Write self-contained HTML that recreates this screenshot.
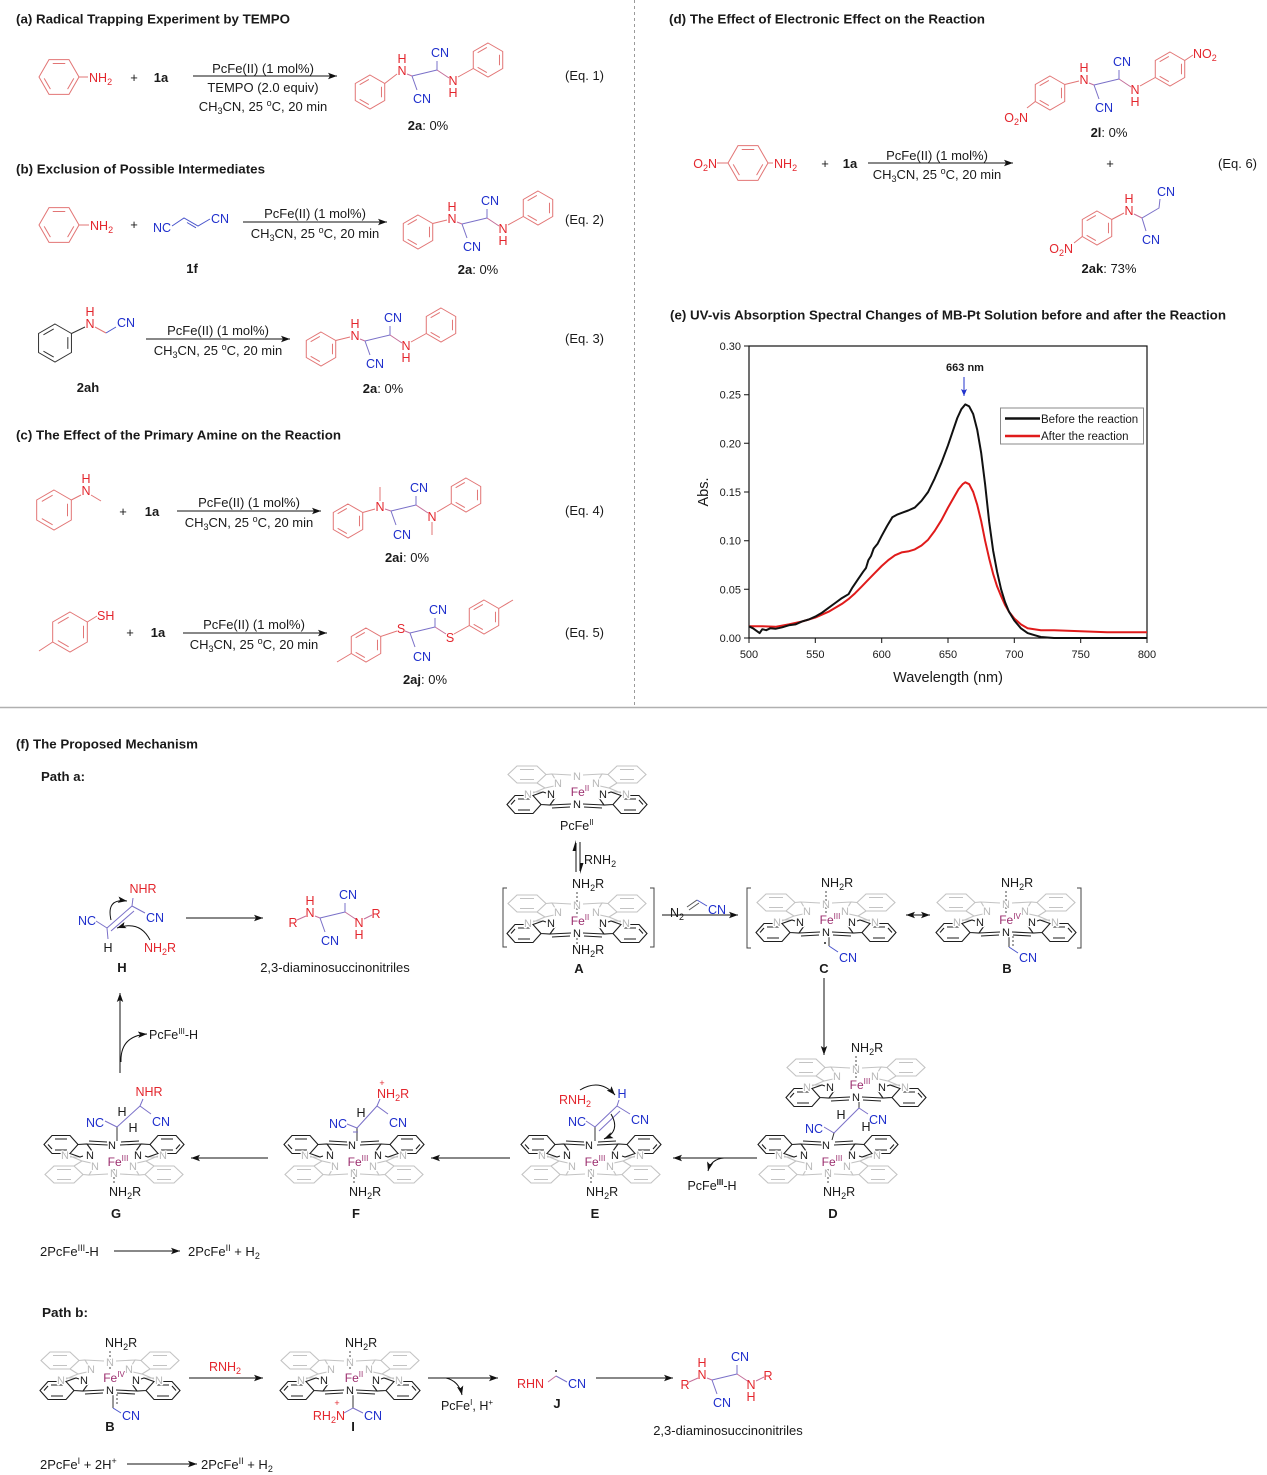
<!DOCTYPE html>
<html><head><meta charset="utf-8">
<style>
html,body{margin:0;padding:0;background:#fff}
svg{display:block}
text{font-family:"Liberation Sans",Arial,sans-serif;fill:#1a1a1a}
.t{font-size:13px}
.ti{font-size:12.5px;font-weight:bold}
.bd{font-weight:bold}
.l{font-size:12.5px}
.r{fill:#e3262d}
.u{fill:#1f2fcc}
.m{text-anchor:middle}
.e{text-anchor:end}
.pn{font-size:11px;text-anchor:middle;paint-order:stroke;stroke:#fff;stroke-width:2.5px;stroke-linejoin:round}
.g{fill:#b8b8b8}
.fe{fill:#9b2d6e;font-size:12px}
.s{fill:none;stroke-width:1}
.ax{font-size:11px}
</style></head><body>
<svg width="1267" height="1475" viewBox="0 0 1267 1475" xmlns="http://www.w3.org/2000/svg">
<defs>
<marker id="ah" markerUnits="userSpaceOnUse" markerWidth="10" markerHeight="8" refX="9" refY="4" orient="auto"><path d="M0,0.8 L9,4 L0,7.2 L2,4 Z" fill="#111"/></marker>
<marker id="ahb" markerUnits="userSpaceOnUse" markerWidth="8" markerHeight="8" refX="7" refY="4" orient="auto"><path d="M0,1 L7,4 L0,7 L1.5,4 Z" fill="#2233cc"/></marker>
<g id="hx"><path vector-effect="non-scaling-stroke" fill="none" d="M-1,0 L-0.5,-0.866 L0.5,-0.866 L1,0 L0.5,0.866 L-0.5,0.866 Z M-0.312,-0.675 L0.312,-0.675 M0.741,0.068 L0.429,0.608 M-0.429,0.608 L-0.741,0.068"/></g>
<g id="pcBl"><path d="M-70,10.5 L-62,1.5 L-44,1.5 L-36,10.5 L-44,19.5 L-62,19.5 Z M-59,5 L-47,5 M-59,16 L-47,16 M-66,10.5 L-62,6 M-44,1.5 L-34,-2 L-31,-1 M-22,4 L-27,11 L-36,10.5 M-27,11 L-6,10 M-25,14 L-7,13"/></g>
<g id="pcGl"><path d="M-69,-19.5 L-60,-28 L-40,-28 L-31,-19.5 L-40,-11 L-60,-11 Z M-57,-24.5 L-43,-24.5 M-57,-14.5 L-43,-14.5 M-31,-19.5 L-25,-20 L-22,-15 M-23,-8 L-32,-6 L-40,-11 M-32,-6 L-44,-1 M-34,-2 L-44,-2 M-25,-20 L-6,-19"/></g>
<g id="pc" fill="none" stroke-width="1.1">
<g stroke="#c3c3c3"><use href="#pcGl"/><use href="#pcGl" transform="scale(-1,1)"/></g>
<g stroke="#1e1e1e"><use href="#pcBl"/><use href="#pcBl" transform="scale(-1,1)"/></g>
</g>
</defs>

<!-- separators -->
<line x1="634.5" y1="0" x2="634.5" y2="705" stroke="#9a9a9a" stroke-width="1" stroke-dasharray="3,3"/>
<line x1="0" y1="707.5" x2="1267" y2="707.5" stroke="#b0b0b0" stroke-width="1.5"/>

<!-- ========== (a) ========== -->
<text class="ti" x="16" y="23.5" textLength="274" lengthAdjust="spacingAndGlyphs">(a) Radical Trapping Experiment by TEMPO</text>
<use href="#hx" transform="translate(59,77) scale(20)" stroke="#e27575" stroke-width="1"/>
<path class="s" stroke="#e27575" d="M79,77 L88,77"/>
<text class="l r" x="89" y="82">NH<tspan font-size="9" dy="3">2</tspan></text>
<text class="t m" x="134" y="82">+</text>
<text class="t bd m" x="161" y="82">1a</text>
<line x1="193" y1="76" x2="337" y2="76" stroke="#111" stroke-width="1" marker-end="url(#ah)"/>
<text class="t m" x="263" y="73">PcFe(II) (1 mol%)</text>
<text class="t m" x="263" y="92">TEMPO (2.0 equiv)</text>
<text class="t m" x="263" y="111">CH<tspan font-size="9" dy="3">3</tspan><tspan dy="-3">CN, 25 </tspan><tspan font-size="9" dy="-5">o</tspan><tspan dy="5">C, 20 min</tspan></text>
<g transform="translate(412,76)">
<use href="#hx" transform="translate(-42,16) rotate(90) scale(17)" stroke="#e27575" stroke-width="1"/>
<use href="#hx" transform="translate(76,-16) rotate(90) scale(17)" stroke="#e27575" stroke-width="1"/>
<path class="s" stroke="#e27575" d="M-27.3,7.5 L-15,-2 M61.3,-7.5 L46,1"/>
<path class="s" stroke="#c46f9a" d="M-5,-2 L0,0 M37,2 L25,-6"/>
<path class="s" stroke="#7a70c8" d="M0,0 L25,-6 M0,0 L5,14 M25,-6 L25,-15"/>
<text class="l r m" x="-10" y="-1">N</text><text class="l r m" x="-10" y="-13">H</text>
<text class="l r m" x="41" y="9">N</text><text class="l r m" x="41" y="21">H</text>
<text class="l u m" x="28" y="-19">CN</text><text class="l u m" x="10" y="27">CN</text>
</g>
<text class="t m" x="428" y="130"><tspan class="bd">2a</tspan>: 0%</text>
<text class="t" x="565" y="80">(Eq. 1)</text>

<!-- ========== (b) ========== -->
<text class="ti" x="16" y="173.5" textLength="249" lengthAdjust="spacingAndGlyphs">(b) Exclusion of Possible Intermediates</text>
<use href="#hx" transform="translate(59,225) scale(20)" stroke="#e27575" stroke-width="1"/>
<path class="s" stroke="#e27575" d="M79,225 L89,225"/>
<text class="l r" x="90" y="230">NH<tspan font-size="9" dy="3">2</tspan></text>
<text class="t m" x="134" y="229">+</text>
<text class="l u m" x="162" y="232">NC</text>
<path class="s" stroke="#4a55cc" d="M172,226 L184,218 L198,226 L210,219 M187,222.5 L196,227.8"/>
<text class="l u" x="211" y="223">CN</text>
<text class="t bd m" x="192" y="273">1f</text>
<line x1="243" y1="222" x2="387" y2="222" stroke="#111" stroke-width="1" marker-end="url(#ah)"/>
<text class="t m" x="315" y="218">PcFe(II) (1 mol%)</text>
<text class="t m" x="315" y="238">CH<tspan font-size="9" dy="3">3</tspan><tspan dy="-3">CN, 25 </tspan><tspan font-size="9" dy="-5">o</tspan><tspan dy="5">C, 20 min</tspan></text>
<g transform="translate(462,224)">
<use href="#hx" transform="translate(-44,8) rotate(90) scale(17)" stroke="#e27575" stroke-width="1"/>
<use href="#hx" transform="translate(76,-16) rotate(90) scale(17)" stroke="#e27575" stroke-width="1"/>
<path class="s" stroke="#e27575" d="M-29.3,-0.5 L-15,-4 M61.3,-7.5 L46,1"/>
<path class="s" stroke="#c46f9a" d="M-5,-2 L0,0 M37,2 L25,-6"/>
<path class="s" stroke="#7a70c8" d="M0,0 L25,-6 M0,0 L5,14 M25,-6 L25,-15"/>
<text class="l r m" x="-10" y="-1">N</text><text class="l r m" x="-10" y="-13">H</text>
<text class="l r m" x="41" y="9">N</text><text class="l r m" x="41" y="21">H</text>
<text class="l u m" x="28" y="-19">CN</text><text class="l u m" x="10" y="27">CN</text>
</g>
<text class="t m" x="478" y="274"><tspan class="bd">2a</tspan>: 0%</text>
<text class="t" x="565" y="224">(Eq. 2)</text>

<!-- Eq 3 -->
<use href="#hx" transform="translate(55,343) rotate(90) scale(19)" stroke="#333" stroke-width="1"/>
<path class="s" stroke="#333" d="M71.5,333.5 L85,327"/>
<text class="l r m" x="90" y="328">N</text><text class="l r m" x="90" y="316">H</text>
<path class="s" stroke="#e27575" d="M95,327 L106,333"/>
<path class="s" stroke="#4a55cc" d="M106,333 L116,327"/>
<text class="l u" x="117" y="327">CN</text>
<text class="t bd m" x="88" y="392">2ah</text>
<line x1="146" y1="339" x2="290" y2="339" stroke="#111" stroke-width="1" marker-end="url(#ah)"/>
<text class="t m" x="218" y="335">PcFe(II) (1 mol%)</text>
<text class="t m" x="218" y="355">CH<tspan font-size="9" dy="3">3</tspan><tspan dy="-3">CN, 25 </tspan><tspan font-size="9" dy="-5">o</tspan><tspan dy="5">C, 20 min</tspan></text>
<g transform="translate(365,341)">
<use href="#hx" transform="translate(-44,8) rotate(90) scale(17)" stroke="#e27575" stroke-width="1"/>
<use href="#hx" transform="translate(76,-16) rotate(90) scale(17)" stroke="#e27575" stroke-width="1"/>
<path class="s" stroke="#e27575" d="M-29.3,-0.5 L-15,-4 M61.3,-7.5 L46,1"/>
<path class="s" stroke="#c46f9a" d="M-5,-2 L0,0 M37,2 L25,-6"/>
<path class="s" stroke="#7a70c8" d="M0,0 L25,-6 M0,0 L5,14 M25,-6 L25,-15"/>
<text class="l r m" x="-10" y="-1">N</text><text class="l r m" x="-10" y="-13">H</text>
<text class="l r m" x="41" y="9">N</text><text class="l r m" x="41" y="21">H</text>
<text class="l u m" x="28" y="-19">CN</text><text class="l u m" x="10" y="27">CN</text>
</g>
<text class="t m" x="383" y="393"><tspan class="bd">2a</tspan>: 0%</text>
<text class="t" x="565" y="343">(Eq. 3)</text>

<!-- ========== (c) ========== -->
<text class="ti" x="16" y="439.5" textLength="325" lengthAdjust="spacingAndGlyphs">(c) The Effect of the Primary Amine on the Reaction</text>
<use href="#hx" transform="translate(54,510) rotate(90) scale(20)" stroke="#e27575" stroke-width="1"/>
<path class="s" stroke="#e27575" d="M71.3,500 L81,495 M91,495 L101,501"/>
<text class="l r m" x="86" y="495">N</text><text class="l r m" x="86" y="483">H</text>
<text class="t m" x="123" y="516">+</text>
<text class="t bd m" x="152" y="516">1a</text>
<line x1="177" y1="511" x2="321" y2="511" stroke="#111" stroke-width="1" marker-end="url(#ah)"/>
<text class="t m" x="249" y="507">PcFe(II) (1 mol%)</text>
<text class="t m" x="249" y="527">CH<tspan font-size="9" dy="3">3</tspan><tspan dy="-3">CN, 25 </tspan><tspan font-size="9" dy="-5">o</tspan><tspan dy="5">C, 20 min</tspan></text>
<g transform="translate(391,511)">
<use href="#hx" transform="translate(-43,10) rotate(90) scale(17)" stroke="#e27575" stroke-width="1"/>
<use href="#hx" transform="translate(75,-16) rotate(90) scale(17)" stroke="#e27575" stroke-width="1"/>
<path class="s" stroke="#e27575" d="M-28.3,1.5 L-16,-2 M60.3,-7.5 L46,1 M-11,-10 L-11,-24 M41,11 L41,24"/>
<path class="s" stroke="#c46f9a" d="M-6,-2 L0,0 M37,2 L25,-6"/>
<path class="s" stroke="#7a70c8" d="M0,0 L25,-6 M0,0 L5,14 M25,-6 L25,-15"/>
<text class="l r m" x="-11" y="0">N</text>
<text class="l r m" x="41" y="10">N</text>
<text class="l u m" x="28" y="-19">CN</text><text class="l u m" x="11" y="28">CN</text>
</g>
<text class="t m" x="407" y="562"><tspan class="bd">2ai</tspan>: 0%</text>
<text class="t" x="565" y="515">(Eq. 4)</text>

<!-- Eq 5 -->
<use href="#hx" transform="translate(70,632) rotate(90) scale(20)" stroke="#e27575" stroke-width="1"/>
<path class="s" stroke="#e27575" d="M87.3,622 L97,616 M52.7,642 L39,651"/>
<text class="l r" x="97" y="620">SH</text>
<text class="t m" x="130" y="637">+</text>
<text class="t bd m" x="158" y="637">1a</text>
<line x1="183" y1="633" x2="327" y2="633" stroke="#111" stroke-width="1" marker-end="url(#ah)"/>
<text class="t m" x="254" y="629">PcFe(II) (1 mol%)</text>
<text class="t m" x="254" y="649">CH<tspan font-size="9" dy="3">3</tspan><tspan dy="-3">CN, 25 </tspan><tspan font-size="9" dy="-5">o</tspan><tspan dy="5">C, 20 min</tspan></text>
<g transform="translate(410,633)">
<use href="#hx" transform="translate(-44,12) rotate(90) scale(17)" stroke="#e27575" stroke-width="1"/>
<use href="#hx" transform="translate(74,-16) rotate(90) scale(17)" stroke="#e27575" stroke-width="1"/>
<path class="s" stroke="#e27575" d="M-29.3,3.5 L-13,-2 M-58.7,20.5 L-73,29 M59.3,-7.5 L44,1 M88.7,-24.5 L103,-33"/>
<path class="s" stroke="#c46f9a" d="M-5,-2 L0,0 M36,1 L25,-6"/>
<path class="s" stroke="#7a70c8" d="M0,0 L25,-6 M0,0 L5,14 M25,-6 L25,-15"/>
<text class="l r m" x="-9" y="0">S</text>
<text class="l r m" x="40" y="9">S</text>
<text class="l u m" x="28" y="-19">CN</text><text class="l u m" x="12" y="28">CN</text>
</g>
<text class="t m" x="425" y="684"><tspan class="bd">2aj</tspan>: 0%</text>
<text class="t" x="565" y="637">(Eq. 5)</text>

<!-- ========== (d) ========== -->
<text class="ti" x="669" y="23.5" textLength="316" lengthAdjust="spacingAndGlyphs">(d) The Effect of Electronic Effect on the Reaction</text>
<text class="l r e" x="717" y="168">O<tspan font-size="9" dy="3">2</tspan><tspan dy="-3">N</tspan></text>
<path class="s" stroke="#e27575" d="M717,163 L728,163 M768,163 L773,163"/>
<use href="#hx" transform="translate(748,163) scale(20)" stroke="#e27575" stroke-width="1"/>
<text class="l r" x="774" y="168">NH<tspan font-size="9" dy="3">2</tspan></text>
<text class="t m" x="825" y="168">+</text>
<text class="t bd m" x="850" y="168">1a</text>
<line x1="868" y1="163" x2="1013" y2="163" stroke="#111" stroke-width="1" marker-end="url(#ah)"/>
<text class="t m" x="937" y="160">PcFe(II) (1 mol%)</text>
<text class="t m" x="937" y="179">CH<tspan font-size="9" dy="3">3</tspan><tspan dy="-3">CN, 25 </tspan><tspan font-size="9" dy="-5">o</tspan><tspan dy="5">C, 20 min</tspan></text>
<g transform="translate(1094,85)">
<use href="#hx" transform="translate(-44,8) rotate(90) scale(17)" stroke="#e27575" stroke-width="1"/>
<use href="#hx" transform="translate(76,-16) rotate(90) scale(17)" stroke="#e27575" stroke-width="1"/>
<path class="s" stroke="#e27575" d="M-29.3,-0.5 L-15,-4 M61.3,-7.5 L46,1 M-58.7,16.5 L-67,23 M90.7,-24.5 L99,-30"/>
<path class="s" stroke="#c46f9a" d="M-5,-2 L0,0 M37,2 L25,-6"/>
<path class="s" stroke="#7a70c8" d="M0,0 L25,-6 M0,0 L5,14 M25,-6 L25,-15"/>
<text class="l r m" x="-10" y="-1">N</text><text class="l r m" x="-10" y="-13">H</text>
<text class="l r m" x="41" y="9">N</text><text class="l r m" x="41" y="21">H</text>
<text class="l u m" x="28" y="-19">CN</text><text class="l u m" x="10" y="27">CN</text>
<text class="l r e" x="-66" y="37">O<tspan font-size="9" dy="3">2</tspan><tspan dy="-3">N</tspan></text>
<text class="l r" x="99" y="-27">NO<tspan font-size="9" dy="3">2</tspan></text>
</g>
<text class="t m" x="1109" y="137"><tspan class="bd">2l</tspan>: 0%</text>
<text class="t m" x="1110" y="168">+</text>
<text class="t" x="1218" y="168">(Eq. 6)</text>
<!-- 2ak -->
<use href="#hx" transform="translate(1097,228) rotate(90) scale(17)" stroke="#e27575" stroke-width="1"/>
<path class="s" stroke="#e27575" d="M1111.7,219.5 L1124,213 M1082.3,236.5 L1074,243"/>
<text class="l r m" x="1129" y="215">N</text><text class="l r m" x="1129" y="203">H</text>
<path class="s" stroke="#c46f9a" d="M1134,214 L1142,218"/>
<path class="s" stroke="#7a70c8" d="M1142,218 L1159,208 L1160,199 M1142,218 L1146,231"/>
<text class="l u m" x="1166" y="196">CN</text>
<text class="l u m" x="1151" y="244">CN</text>
<text class="l r e" x="1073" y="253">O<tspan font-size="9" dy="3">2</tspan><tspan dy="-3">N</tspan></text>
<text class="t m" x="1109" y="273"><tspan class="bd">2ak</tspan>: 73%</text>

<!-- ========== (e) chart ========== -->
<text class="ti" x="670" y="319.5" textLength="556" lengthAdjust="spacingAndGlyphs">(e) UV-vis Absorption Spectral Changes of MB-Pt Solution before and after the Reaction</text>
<rect x="749" y="346" width="398" height="292" fill="none" stroke="#111" stroke-width="1.2"/>
<g stroke="#111" stroke-width="1">
<path d="M744,638 H749 M744,589.3 H749 M744,540.7 H749 M744,492 H749 M744,443.3 H749 M744,394.7 H749 M744,346 H749"/>
<path d="M749,638 V643 M815.3,638 V643 M881.7,638 V643 M948,638 V643 M1014.3,638 V643 M1080.7,638 V643 M1147,638 V643"/>
</g>
<g class="ax">
<text class="ax e" x="741" y="642">0.00</text>
<text class="ax e" x="741" y="593.3">0.05</text>
<text class="ax e" x="741" y="544.7">0.10</text>
<text class="ax e" x="741" y="496">0.15</text>
<text class="ax e" x="741" y="447.3">0.20</text>
<text class="ax e" x="741" y="398.7">0.25</text>
<text class="ax e" x="741" y="350">0.30</text>
<text class="ax m" x="749" y="658">500</text>
<text class="ax m" x="815.3" y="658">550</text>
<text class="ax m" x="881.7" y="658">600</text>
<text class="ax m" x="948" y="658">650</text>
<text class="ax m" x="1014.3" y="658">700</text>
<text class="ax m" x="1080.7" y="658">750</text>
<text class="ax m" x="1147" y="658">800</text>
</g>
<text class="m" x="948" y="682" font-size="14.5">Wavelength (nm)</text>
<text class="m" font-size="14.5" transform="translate(708,492) rotate(-90)">Abs.</text>
<polyline fill="none" stroke="#e01b1b" stroke-width="2" stroke-linejoin="round" points="749,626.3 762.3,626.3 775.5,626.8 788.8,624.4 802.1,621.5 815.3,617.6 828.6,611.7 841.9,603.9 848.5,599.1 855.1,593.2 861.8,586.4 868.4,579.6 875,572.8 881.7,566 888.3,560.1 894.9,555.3 901.6,552.4 908.2,551.4 914.8,549.4 921.5,545.5 928.1,539.7 934.7,530.9 941.4,520.2 948,507.6 954.7,495.9 958.6,489.1 962.6,484.2 965.3,482.3 969.2,484.2 973.2,492 977.2,504.7 981.2,521.2 985.1,540.7 989.1,558.2 993.1,573.8 997.1,586.4 1001.1,596.1 1005,604.9 1009,611.7 1014.3,618.5 1020.9,624.4 1027.6,628.3 1034.2,629.2 1040.9,630.2 1054.1,630.2 1080.7,631.2 1107.2,632.2 1147,632.2"/>
<polyline fill="none" stroke="#111" stroke-width="2" stroke-linejoin="round" points="749,626.3 753,628.3 757,631.2 759.6,633.1 762.3,629.2 766.2,630.2 770.2,628.3 775.5,628.8 782.2,627.3 788.8,625.3 795.4,624.4 802.1,621.4 808.7,619.5 815.3,616.6 822,612.7 828.6,607.8 835.2,603 841.9,598.1 848.5,594.2 852.5,587.4 857.8,579.6 863.1,571.8 866,568 868.4,560.1 871,556 873.7,548.5 877.7,543.6 881.7,535.8 887,526.1 892.3,517.3 897.6,514.4 902.9,512.4 908.2,510.5 914.8,507.6 921.5,500.8 928.1,492 934.7,478.4 941.4,462.8 948,445.3 953.3,429.7 957.3,418 961.3,409.3 965.3,404.4 969.2,406.4 973.2,414.1 977.2,429.7 981.2,453.1 985.1,484.2 989.1,521.2 993.1,550.4 997.1,571.8 1001.1,589.3 1005,602 1009,611.7 1014.3,620.5 1020.9,628.3 1027.6,633.1 1034.2,635.1 1040.9,637 1054.1,638 1147,638"/>
<text class="bd m" x="965" y="371" font-size="11">663 nm</text>
<line x1="964" y1="377" x2="964" y2="396" stroke="#2233cc" stroke-width="1" marker-end="url(#ahb)"/>
<rect x="1000.5" y="408" width="143" height="36" fill="#fff" stroke="#8a8a8a" stroke-width="1"/>
<line x1="1005" y1="418.5" x2="1040" y2="418.5" stroke="#111" stroke-width="2.5"/>
<line x1="1005" y1="436" x2="1040" y2="436" stroke="#e01b1b" stroke-width="2.5"/>
<text x="1041" y="423" font-size="11.5">Before the reaction</text>
<text x="1041" y="440" font-size="11.5">After the reaction</text>

<!-- ========== (f) mechanism ========== -->
<text class="ti" x="16" y="748.5" textLength="182" lengthAdjust="spacingAndGlyphs">(f) The Proposed Mechanism</text>
<text class="ti" x="41" y="781" textLength="44" lengthAdjust="spacingAndGlyphs">Path a:</text>

<!-- PcFe(II) top -->
<g transform="translate(577,794)">
<use href="#pc"/>
<text class="pn g" x="0" y="-14">N</text><text class="pn g" x="-19" y="-7">N</text><text class="pn g" x="19" y="-7">N</text><text class="pn g" x="-49" y="4">N</text><text class="pn g" x="49" y="4">N</text>
<text class="pn" x="-26" y="4">N</text><text class="pn" x="26" y="4">N</text><text class="pn" x="0" y="14">N</text>
<text class="pn fe" x="3" y="2">Fe<tspan font-size="8" dy="-5">II</tspan></text>
</g>
<text class="l" x="560" y="830">PcFe<tspan font-size="8" dy="-5">II</tspan></text>
<path d="M576,872 V843" stroke="#111" stroke-width="1"/>
<path d="M576,840 L576,851 L572.5,851 Z" fill="#111"/>
<path d="M580,842 V871" stroke="#111" stroke-width="1"/>
<path d="M580,874 L580,863 L583.5,863 Z" fill="#111"/>
<text class="l" x="584" y="864">RNH<tspan font-size="9" dy="3">2</tspan></text>

<!-- A -->
<path class="s" stroke="#444" d="M507,888 H503 V947 H507 M650,888 H654 V947 H650"/>
<g transform="translate(577,923)">
<use href="#pc"/>
<path class="s" stroke="#444" stroke-dasharray="2,2" d="M0,-31 V-9 M0,15 V21"/>
<text class="l" x="-5" y="-35">NH<tspan font-size="9" dy="3">2</tspan><tspan dy="-3">R</tspan></text>
<text class="l" x="-5" y="31">NH<tspan font-size="9" dy="3">2</tspan><tspan dy="-3">R</tspan></text>
<text class="pn g" x="0" y="-14">N</text><text class="pn g" x="-19" y="-7">N</text><text class="pn g" x="19" y="-7">N</text><text class="pn g" x="-49" y="4">N</text><text class="pn g" x="49" y="4">N</text>
<text class="pn" x="-26" y="4">N</text><text class="pn" x="26" y="4">N</text><text class="pn" x="0" y="14">N</text>
<text class="pn fe" x="3" y="2">Fe<tspan font-size="8" dy="-5">II</tspan></text>
</g>
<text class="t bd m" x="579" y="973">A</text>

<!-- A -> C -->
<line x1="662" y1="915" x2="738" y2="915" stroke="#111" stroke-width="1" marker-end="url(#ah)"/>
<text class="l" x="670" y="917">N<tspan font-size="9" dy="3">2</tspan></text>
<path class="s" stroke="#555" d="M687,907 L697,900 M689,910 L699,903"/>
<path class="s" stroke="#4a55cc" d="M697,900 L707,906"/>
<text class="l u" x="708" y="914">CN</text>

<!-- C / B bracket -->
<path class="s" stroke="#444" d="M751,888 H747 V948 H751 M1077,888 H1081 V948 H1077"/>
<g transform="translate(826,922)">
<use href="#pc"/>
<path class="s" stroke="#444" stroke-dasharray="2,2" d="M0,-31 V-9"/>
<text class="l" x="-5" y="-35">NH<tspan font-size="9" dy="3">2</tspan><tspan dy="-3">R</tspan></text>
<path class="s" stroke="#333" d="M3,14 V24"/>
<path class="s" stroke="#4a55cc" d="M3,24 L12,30"/>
<circle cx="-1" cy="21" r="1" fill="#222"/>
<text class="l u" x="13" y="40">CN</text>
<text class="pn g" x="0" y="-14">N</text><text class="pn g" x="-19" y="-7">N</text><text class="pn g" x="19" y="-7">N</text><text class="pn g" x="-49" y="4">N</text><text class="pn g" x="49" y="4">N</text>
<text class="pn" x="-26" y="4">N</text><text class="pn" x="26" y="4">N</text><text class="pn" x="0" y="14">N</text>
<text class="pn fe" x="4" y="2">Fe<tspan font-size="8" dy="-5">III</tspan></text>
</g>
<text class="t bd m" x="824" y="973">C</text>
<line x1="912" y1="915" x2="930" y2="915" stroke="#111" stroke-width="1" marker-end="url(#ah)"/>
<line x1="924" y1="915" x2="906" y2="915" stroke="#111" stroke-width="1" marker-end="url(#ah)"/>
<g transform="translate(1006,922)">
<use href="#pc"/>
<path class="s" stroke="#444" stroke-dasharray="2,2" d="M0,-31 V-9 M7,14 V24"/>
<text class="l" x="-5" y="-35">NH<tspan font-size="9" dy="3">2</tspan><tspan dy="-3">R</tspan></text>
<path class="s" stroke="#333" d="M3,14 V25"/>
<path class="s" stroke="#4a55cc" d="M3,25 L12,31"/>
<text class="l u" x="13" y="40">CN</text>
<text class="pn g" x="0" y="-14">N</text><text class="pn g" x="-19" y="-7">N</text><text class="pn g" x="19" y="-7">N</text><text class="pn g" x="-49" y="4">N</text><text class="pn g" x="49" y="4">N</text>
<text class="pn" x="-26" y="4">N</text><text class="pn" x="26" y="4">N</text><text class="pn" x="0" y="14">N</text>
<text class="pn fe" x="4" y="2">Fe<tspan font-size="8" dy="-5">IV</tspan></text>
</g>
<text class="t bd m" x="1007" y="973">B</text>

<!-- C -> D -->
<line x1="824" y1="978" x2="824" y2="1055" stroke="#111" stroke-width="1" marker-end="url(#ah)"/>

<!-- D -->
<g transform="translate(856,1087)">
<use href="#pc"/>
<path class="s" stroke="#444" stroke-dasharray="2,2" d="M0,-31 V-9"/>
<text class="l" x="-5" y="-35">NH<tspan font-size="9" dy="3">2</tspan><tspan dy="-3">R</tspan></text>
<text class="pn g" x="0" y="-14">N</text><text class="pn g" x="-19" y="-7">N</text><text class="pn g" x="19" y="-7">N</text><text class="pn g" x="-49" y="4">N</text><text class="pn g" x="49" y="4">N</text>
<text class="pn" x="-26" y="4">N</text><text class="pn" x="26" y="4">N</text><text class="pn" x="0" y="14">N</text>
<text class="pn fe" x="4" y="2">Fe<tspan font-size="8" dy="-5">III</tspan></text>
</g>
<path class="s" stroke="#333" d="M859,1102 V1108"/>
<path class="s" stroke="#7a70c8" d="M859,1108 L834,1133 M859,1108 L868,1114 M834,1133 L824,1127"/>
<path class="s" stroke="#333" d="M834,1133 L832,1140"/>
<text class="l m" x="841" y="1119">H</text>
<text class="l m" x="866" y="1131">H</text>
<text class="l u" x="869" y="1124">CN</text>
<text class="l u e" x="823" y="1133">NC</text>
<g transform="translate(828,1155)">
<use href="#pc" transform="scale(1,-1)"/>
<path class="s" stroke="#444" stroke-dasharray="2,2" d="M0,14 V28"/>
<text class="l" x="-5" y="41">NH<tspan font-size="9" dy="3">2</tspan><tspan dy="-3">R</tspan></text>
<text class="pn g" x="0" y="22">N</text><text class="pn g" x="-19" y="15">N</text><text class="pn g" x="19" y="15">N</text><text class="pn g" x="-49" y="4">N</text><text class="pn g" x="49" y="4">N</text>
<text class="pn" x="-24" y="4">N</text><text class="pn" x="24" y="4">N</text><text class="pn" x="-2" y="-6">N</text>
<text class="pn fe" x="4" y="11">Fe<tspan font-size="8" dy="-5">III</tspan></text>
</g>
<text class="t bd m" x="833" y="1218">D</text>

<!-- D -> E -->
<line x1="757" y1="1158" x2="673" y2="1158" stroke="#111" stroke-width="1" marker-end="url(#ah)"/>
<path class="s" stroke="#111" d="M724,1158 Q711,1159 708,1171" marker-end="url(#ah)"/>
<text class="l m" x="712" y="1190">PcFe<tspan font-size="8" dy="-5" font-weight="bold">III</tspan><tspan dy="5">-H</tspan></text>

<!-- E -->
<g transform="translate(591,1155)">
<use href="#pc" transform="scale(1,-1)"/>
<path class="s" stroke="#444" stroke-dasharray="2,2" d="M0,14 V28"/>
<text class="l" x="-5" y="41">NH<tspan font-size="9" dy="3">2</tspan><tspan dy="-3">R</tspan></text>
<path class="s" stroke="#333" d="M4,-14 V-28"/>
<text class="pn g" x="0" y="22">N</text><text class="pn g" x="-19" y="15">N</text><text class="pn g" x="19" y="15">N</text><text class="pn g" x="-49" y="4">N</text><text class="pn g" x="49" y="4">N</text>
<text class="pn" x="-24" y="4">N</text><text class="pn" x="24" y="4">N</text><text class="pn" x="-2" y="-6">N</text>
<text class="pn fe" x="4" y="11">Fe<tspan font-size="8" dy="-5">III</tspan></text>
</g>
<path class="s" stroke="#7a70c8" d="M595,1127 L617,1106 M599,1131 L620,1111 M595,1127 L586,1121 M617,1106 L630,1114 M617,1106 L619,1100"/>
<text class="l u e" x="586" y="1126">NC</text>
<text class="l u m" x="622" y="1098">H</text>
<text class="l u" x="631" y="1124">CN</text>
<text class="l r m" x="575" y="1104">RNH<tspan font-size="9" dy="3">2</tspan></text>
<path class="s" stroke="#111" d="M580,1090 Q600,1078 615,1095" marker-end="url(#ah)"/>
<path class="s" stroke="#111" d="M611,1114 Q621,1131 604,1139" marker-end="url(#ah)"/>
<text class="t bd m" x="595" y="1218">E</text>

<!-- E -> F -->
<line x1="510" y1="1158" x2="431" y2="1158" stroke="#111" stroke-width="1" marker-end="url(#ah)"/>

<!-- F -->
<g transform="translate(354,1155)">
<use href="#pc" transform="scale(1,-1)"/>
<path class="s" stroke="#444" stroke-dasharray="2,2" d="M0,14 V28"/>
<text class="l" x="-5" y="41">NH<tspan font-size="9" dy="3">2</tspan><tspan dy="-3">R</tspan></text>
<path class="s" stroke="#333" d="M3,-14 V-27"/>
<text class="pn g" x="0" y="22">N</text><text class="pn g" x="-19" y="15">N</text><text class="pn g" x="19" y="15">N</text><text class="pn g" x="-49" y="4">N</text><text class="pn g" x="49" y="4">N</text>
<text class="pn" x="-24" y="4">N</text><text class="pn" x="24" y="4">N</text><text class="pn" x="-2" y="-6">N</text>
<text class="pn fe" x="4" y="11">Fe<tspan font-size="8" dy="-5">III</tspan></text>
</g>
<path class="s" stroke="#7a70c8" d="M357,1128 L377,1106 M357,1128 L347,1124 M377,1106 L388,1114 M377,1106 L380,1099 M353,1132 L358,1132"/>
<text class="l u e" x="347" y="1128">NC</text>
<text class="l m" x="361" y="1117">H</text>
<text class="l u" x="389" y="1127">CN</text>
<text class="l r" x="377" y="1098">NH<tspan font-size="9" dy="3">2</tspan><tspan dy="-3">R</tspan></text>
<text class="r m" x="382" y="1086" font-size="9">+</text>
<text class="t bd m" x="356" y="1218">F</text>

<!-- F -> G -->
<line x1="268" y1="1158" x2="191" y2="1158" stroke="#111" stroke-width="1" marker-end="url(#ah)"/>

<!-- G -->
<g transform="translate(114,1155)">
<use href="#pc" transform="scale(1,-1)"/>
<path class="s" stroke="#444" stroke-dasharray="2,2" d="M0,14 V28"/>
<text class="l" x="-5" y="41">NH<tspan font-size="9" dy="3">2</tspan><tspan dy="-3">R</tspan></text>
<path class="s" stroke="#333" d="M3,-14 V-28"/>
<text class="pn g" x="0" y="22">N</text><text class="pn g" x="-19" y="15">N</text><text class="pn g" x="19" y="15">N</text><text class="pn g" x="-49" y="4">N</text><text class="pn g" x="49" y="4">N</text>
<text class="pn" x="-24" y="4">N</text><text class="pn" x="24" y="4">N</text><text class="pn" x="-2" y="-6">N</text>
<text class="pn fe" x="4" y="11">Fe<tspan font-size="8" dy="-5">III</tspan></text>
</g>
<path class="s" stroke="#7a70c8" d="M117,1127 L140,1106 M117,1127 L105,1121 M140,1106 L151,1114 M140,1106 L143,1099"/>
<text class="l u e" x="104" y="1127">NC</text>
<text class="l m" x="133" y="1132">H</text>
<text class="l m" x="122" y="1116">H</text>
<text class="l u" x="152" y="1126">CN</text>
<text class="l r m" x="149" y="1096">NHR</text>
<text class="t bd m" x="116" y="1218">G</text>

<!-- G -> H -->
<line x1="120" y1="1073" x2="120" y2="993" stroke="#111" stroke-width="1" marker-end="url(#ah)"/>
<path class="s" stroke="#111" d="M121,1062 Q120,1036 147,1034" marker-end="url(#ah)"/>
<text class="l" x="149" y="1039">PcFe<tspan font-size="8" dy="-5">III</tspan><tspan dy="5">-H</tspan></text>

<!-- H structure -->
<text class="l r m" x="143" y="893">NHR</text>
<path class="s" stroke="#7a70c8" d="M132,906 L133,898 M132,906 L145,913 M107,928 L132,906 M111,931 L134,911 M96,921 L107,928 M107,928 L108,939"/>
<text class="l u m" x="87" y="925">NC</text>
<text class="l u m" x="155" y="922">CN</text>
<text class="l m" x="108" y="952">H</text>
<text class="l r m" x="160" y="952">NH<tspan font-size="9" dy="3">2</tspan><tspan dy="-3">R</tspan></text>
<path class="s" stroke="#111" d="M111,920 Q106,898 127,901" marker-end="url(#ah)"/>
<path class="s" stroke="#111" d="M150,940 Q140,920 117,928" marker-end="url(#ah)"/>
<text class="t bd m" x="122" y="972">H</text>

<line x1="186" y1="918" x2="263" y2="918" stroke="#111" stroke-width="1" marker-end="url(#ah)"/>
<g transform="translate(320,918)">
<path class="s" stroke="#c46f9a" d="M-5,-2 L0,0 M37,2 L25,-6 M-23,2 L-14,-2 M44,1 L52,-3"/>
<path class="s" stroke="#7a70c8" d="M0,0 L25,-6 M0,0 L5,14 M25,-6 L25,-15"/>
<text class="l r m" x="-10" y="-1">N</text><text class="l r m" x="-10" y="-13">H</text>
<text class="l r m" x="39" y="9">N</text><text class="l r m" x="39" y="21">H</text>
<text class="l r m" x="-27" y="9">R</text><text class="l r m" x="56" y="0">R</text>
<text class="l u m" x="28" y="-19">CN</text><text class="l u m" x="10" y="27">CN</text>
</g>
<text class="t m" x="335" y="972">2,3-diaminosuccinonitriles</text>

<text class="t" x="40" y="1256">2PcFe<tspan font-size="9" dy="-5">III</tspan><tspan dy="5">-H</tspan></text>
<line x1="114" y1="1251" x2="180" y2="1251" stroke="#111" stroke-width="1" marker-end="url(#ah)"/>
<text class="t" x="188" y="1256">2PcFe<tspan font-size="9" dy="-5">II</tspan><tspan dy="5">  +  H</tspan><tspan font-size="9" dy="3">2</tspan></text>

<!-- ========== Path b ========== -->
<text class="ti" x="42" y="1317" textLength="46" lengthAdjust="spacingAndGlyphs">Path b:</text>
<g transform="translate(110,1380)">
<use href="#pc"/>
<path class="s" stroke="#444" stroke-dasharray="2,2" d="M0,-29 V-9 M7,14 V26"/>
<text class="l" x="-5" y="-33">NH<tspan font-size="9" dy="3">2</tspan><tspan dy="-3">R</tspan></text>
<path class="s" stroke="#333" d="M3,14 V28"/>
<path class="s" stroke="#4a55cc" d="M3,28 L11,33"/>
<text class="l u" x="12" y="40">CN</text>
<text class="pn g" x="0" y="-14">N</text><text class="pn g" x="-19" y="-7">N</text><text class="pn g" x="19" y="-7">N</text><text class="pn g" x="-49" y="4">N</text><text class="pn g" x="49" y="4">N</text>
<text class="pn" x="-26" y="4">N</text><text class="pn" x="26" y="4">N</text><text class="pn" x="0" y="14">N</text>
<text class="pn fe" x="4" y="2">Fe<tspan font-size="8" dy="-5">IV</tspan></text>
</g>
<text class="t bd m" x="110" y="1431">B</text>
<line x1="189" y1="1378" x2="263" y2="1378" stroke="#111" stroke-width="1" marker-end="url(#ah)"/>
<text class="l r m" x="225" y="1371">RNH<tspan font-size="9" dy="3">2</tspan></text>
<g transform="translate(350,1380)">
<use href="#pc"/>
<path class="s" stroke="#444" stroke-dasharray="2,2" d="M0,-29 V-9"/>
<text class="l" x="-5" y="-33">NH<tspan font-size="9" dy="3">2</tspan><tspan dy="-3">R</tspan></text>
<path class="s" stroke="#333" d="M3,14 V28"/>
<path class="s" stroke="#7a70c8" d="M3,28 L13,33 M3,28 L-6,33"/>
<text class="pn g" x="0" y="-14">N</text><text class="pn g" x="-19" y="-7">N</text><text class="pn g" x="19" y="-7">N</text><text class="pn g" x="-49" y="4">N</text><text class="pn g" x="49" y="4">N</text>
<text class="pn" x="-26" y="4">N</text><text class="pn" x="26" y="4">N</text><text class="pn" x="0" y="14">N</text>
<text class="pn fe" x="4" y="2">Fe<tspan font-size="8" dy="-5">II</tspan></text>
</g>
<text class="l r e" x="345" y="1420">RH<tspan font-size="9" dy="3">2</tspan><tspan dy="-3">N</tspan></text>
<text class="r m" x="337" y="1406" font-size="9">+</text>
<text class="l u" x="364" y="1420">CN</text>
<text class="t bd m" x="353" y="1431">I</text>
<line x1="428" y1="1378" x2="498" y2="1378" stroke="#111" stroke-width="1" marker-end="url(#ah)"/>
<path class="s" stroke="#111" d="M446,1378 Q459,1381 462,1395" marker-end="url(#ah)"/>
<text class="l m" x="467" y="1410">PcFe<tspan font-size="8" dy="-5">I</tspan><tspan dy="5">, H</tspan><tspan font-size="8" dy="-5">+</tspan></text>
<text class="l r" x="517" y="1388">RHN</text>
<path class="s" stroke="#c46f9a" d="M548,1382 L556,1376"/>
<path class="s" stroke="#7a70c8" d="M556,1376 L567,1382"/>
<circle cx="556" cy="1371" r="1" fill="#222"/>
<text class="l u" x="568" y="1388">CN</text>
<text class="t bd m" x="557" y="1408">J</text>
<line x1="596" y1="1378" x2="673" y2="1378" stroke="#111" stroke-width="1" marker-end="url(#ah)"/>
<g transform="translate(712,1380)">
<path class="s" stroke="#c46f9a" d="M-5,-2 L0,0 M37,2 L25,-6 M-23,2 L-14,-2 M44,1 L52,-3"/>
<path class="s" stroke="#7a70c8" d="M0,0 L25,-6 M0,0 L5,14 M25,-6 L25,-15"/>
<text class="l r m" x="-10" y="-1">N</text><text class="l r m" x="-10" y="-13">H</text>
<text class="l r m" x="39" y="9">N</text><text class="l r m" x="39" y="21">H</text>
<text class="l r m" x="-27" y="9">R</text><text class="l r m" x="56" y="0">R</text>
<text class="l u m" x="28" y="-19">CN</text><text class="l u m" x="10" y="27">CN</text>
</g>
<text class="t m" x="728" y="1435">2,3-diaminosuccinonitriles</text>

<text class="t" x="40" y="1469">2PcFe<tspan font-size="9" dy="-5">I</tspan><tspan dy="5">  + 2H</tspan><tspan font-size="9" dy="-5">+</tspan></text>
<line x1="127" y1="1464" x2="197" y2="1464" stroke="#111" stroke-width="1" marker-end="url(#ah)"/>
<text class="t" x="201" y="1469">2PcFe<tspan font-size="9" dy="-5">II</tspan><tspan dy="5">  +  H</tspan><tspan font-size="9" dy="3">2</tspan></text>
</svg>
</body></html>
